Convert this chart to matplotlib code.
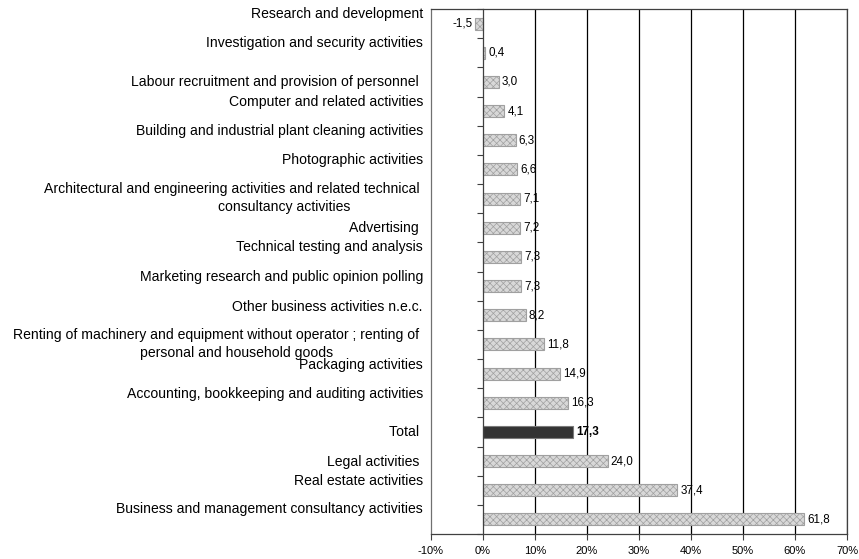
import matplotlib
matplotlib.use("Agg")
import matplotlib.pyplot as plt
import matplotlib.transforms as mtransforms
import numpy as np

plt.rcParams['font.family'] = ['Liberation Sans', 'DejaVu Sans']
plt.rcParams['hatch.color'] = '#c0c0c0'
plt.rcParams['hatch.linewidth'] = 0.5

categories = [
    "Research and development",
    "Investigation and security activities",
    "Labour recruitment and provision of personnel ",
    "Computer and related activities",
    "Building and industrial plant cleaning activities",
    "Photographic activities",
    "Architectural and engineering activities and related technical \nconsultancy activities",
    "Advertising ",
    "Technical testing and analysis",
    "Marketing research and public opinion polling",
    "Other business activities n.e.c.",
    "Renting of machinery and equipment without operator ; renting of \npersonal and household goods",
    "Packaging activities",
    "Accounting, bookkeeping and auditing activities",
    "Total ",
    "Legal activities ",
    "Real estate activities",
    "Business and management consultancy activities",
]
values = [-1.5, 0.4, 3.0, 4.1, 6.3, 6.6, 7.1, 7.2, 7.3, 7.3, 8.2, 11.8, 14.9, 16.3, 17.3, 24.0, 37.4, 61.8]
highlight = "Total "
xticks = [-10, 0, 10, 20, 30, 40, 50, 60, 70]
xticklabels = ["-10%", "0%", "10%", "20%", "30%", "40%", "50%", "60%", "70%"]

# label placement (pixels): upward shift of first line, and for wrapped labels
# the second line's downward shift and right edge (px left of axes)
label_up = [9.6, 9.8, 0, 9, 9.3, 9.5, 9.6, 0, 10, 9, 8.3, 9.5, 8.6, 8.8, 0, -1, 9.3, 10.4]
second_line = {6: (-8.4, 81), 11: (-8.5, 98)}

DPI = 100
fig = plt.figure(figsize=(8.59, 5.59), dpi=DPI)
ax = fig.add_axes([431/859, 1-534/559, (847-431)/859, (534-9)/559])

for yi, (cat, v) in enumerate(zip(categories, values)):
    if cat == highlight:
        ax.barh(yi, v, height=0.42, color='#333333', edgecolor='#7a7a7a', linewidth=0.8, zorder=3)
    else:
        ax.barh(yi, v, height=0.41, color='#d8d8d8', edgecolor='#a0a0a0', linewidth=0.8,
                hatch='xxxxx', zorder=3)
    txt = f"{v:.1f}".replace('.', ',')
    bold = 'bold' if cat == highlight else 'normal'
    if v >= 0:
        ax.annotate(txt, (v, yi), xytext=(2.2, 0), textcoords='offset points', va='center', ha='left',
                    fontsize=8.4, fontweight=bold, zorder=4)
    else:
        ax.annotate(txt, (v, yi), xytext=(-2.2, 0), textcoords='offset points', va='center', ha='right',
                    fontsize=8.4, zorder=4)

ax.set_xlim(-10, 70)
ax.set_ylim(len(categories) - 0.5, -0.5)

for xv in xticks[2:]:
    ax.axvline(xv, color='#000000', linewidth=0.9, zorder=1)

ax.set_xticks(xticks)
ax.set_xticklabels(xticklabels, fontsize=8)
ax.tick_params(axis='x', direction='out', length=4, width=0.8, color='#404040', pad=5)

ax.spines['left'].set_position(('data', 0))
ax.spines['left'].set_color('#404040')
ax.spines['left'].set_zorder(5)
ax.set_yticks(np.arange(-0.5, len(categories), 1.0))
ax.set_yticklabels([])
ax.tick_params(axis='y', direction='out', length=4, width=0.8, color='#404040')
for s in ['top', 'right', 'bottom']:
    ax.spines[s].set_color('#404040')
    ax.spines[s].set_linewidth(0.9)
ax.spines['left'].set_linewidth(0.9)
ax.axvline(-10, color='#707070', linewidth=0.9, zorder=2, clip_on=False)

blend = mtransforms.blended_transform_factory(ax.transAxes, ax.transData)
for yi, (cat, up) in enumerate(zip(categories, label_up)):
    lines = cat.split('\n')
    tr = blend + mtransforms.ScaledTranslation(-8/DPI, up/DPI, fig.dpi_scale_trans)
    ax.text(0, yi, lines[0], transform=tr, ha='right', va='center', fontsize=10.1)
    if len(lines) > 1:
        down, xoff = second_line[yi]
        tr2 = blend + mtransforms.ScaledTranslation(-xoff/DPI, down/DPI, fig.dpi_scale_trans)
        ax.text(0, yi, lines[1], transform=tr2, ha='right', va='center', fontsize=10.1)

fig.savefig("out.png", dpi=DPI)
